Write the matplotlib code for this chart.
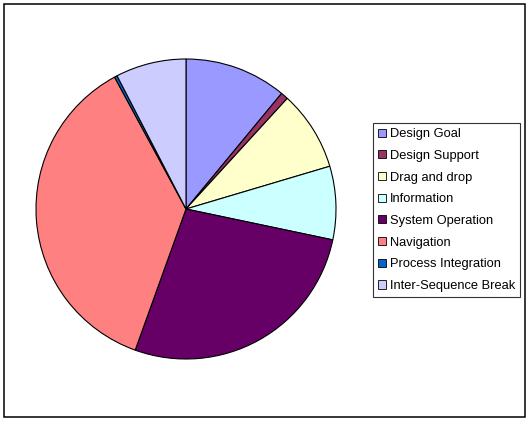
import matplotlib.pyplot as plt
from matplotlib.patches import Rectangle

plt.rcParams['font.family'] = ['Liberation Sans', 'DejaVu Sans']

labels = ['Design Goal', 'Design Support', 'Drag and drop', 'Information',
          'System Operation', 'Navigation', 'Process Integration', 'Inter-Sequence Break']
values = [11.0, 0.8, 8.6, 7.9, 27.2, 36.6, 0.3, 7.6]
colors = ['#9999FF', '#993366', '#FFFFCC', '#CCFFFF',
          '#660066', '#FF8080', '#0066CC', '#CCCCFF']

W, H = 530, 428
fig = plt.figure(figsize=(W / 100, H / 100), dpi=100)
ax = fig.add_axes([0, 0, 1, 1])
ax.set_xlim(0, W)
ax.set_ylim(0, H)
ax.axis('off')

# outer chart border
ax.add_patch(Rectangle((3.5, 11), 521.5, 413.5, fill=False, edgecolor='black', linewidth=1.1))

wedges, _ = ax.pie(values, colors=colors, startangle=90, counterclock=False,
                   center=(186, H - 209), radius=150,
                   wedgeprops=dict(edgecolor='black', linewidth=0.8))
ax.set_xlim(0, W)
ax.set_ylim(0, H)
ax.set_aspect('auto')

handles = [Rectangle((0, 0), 1, 1, facecolor=c, edgecolor='black', linewidth=0.6) for c in colors]
leg = fig.legend(handles, labels, loc='upper left', bbox_to_anchor=(373 / W, 1 - 123 / H),
                 fontsize=9.3, frameon=True, fancybox=False, edgecolor='black',
                 handlelength=0.6, handleheight=0.6, handletextpad=0.3,
                 labelspacing=0.75, borderpad=0.4, borderaxespad=0)
leg.get_frame().set_linewidth(0.8)

fig.savefig('out.png', dpi=100)
